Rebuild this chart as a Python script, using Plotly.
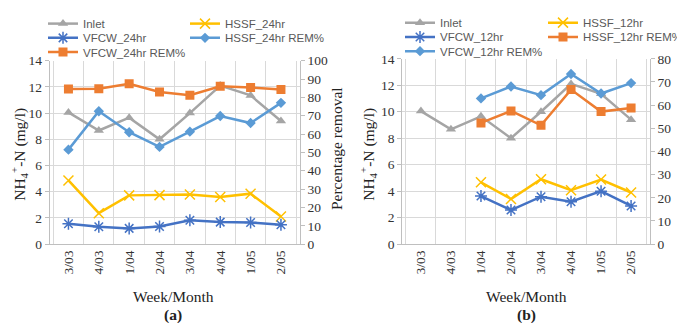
import plotly.graph_objects as go

weeks = ["3/03", "4/03", "1/04", "2/04", "3/04", "4/04", "1/05", "2/05"]

# Panel (a) - 24 hr
inlet = [10.05, 8.67, 9.65, 8.0, 10.0, 12.1, 11.35, 9.4]
hssf_24 = [4.86, 2.36, 3.72, 3.74, 3.78, 3.6, 3.85, 2.1]
vfcw_24 = [1.55, 1.32, 1.2, 1.35, 1.82, 1.68, 1.65, 1.48]
hssf_24_rem = [51.5, 72.4, 61.0, 53.0, 61.3, 69.8, 66.0, 77.0]
vfcw_24_rem = [84.5, 84.7, 87.4, 82.9, 81.2, 86.0, 85.4, 84.3]

# Panel (b) - 12 hr
hssf_12 = [None, None, 4.67, 3.41, 4.9, 4.07, 4.88, 3.9]
vfcw_12 = [None, None, 3.63, 2.57, 3.58, 3.2, 4.0, 2.88]
hssf_12_rem = [None, None, 52.3, 57.5, 51.3, 66.7, 57.2, 58.8]
vfcw_12_rem = [None, None, 62.9, 68.0, 64.3, 73.4, 65.0, 69.5]

GRAY = "#A5A5A5"
YEL = "#FFC000"
BLUE = "#4472C4"
LBLUE = "#5B9BD5"
ORANGE = "#ED7D31"

W, H = 685, 323
fig = go.Figure()

legend_defs = {}
leg_font = dict(family="Liberation Sans", size=11.5, color="#595959")

def tr(y, name, color, symbol, size, xa, ya, lx, ly, open_=False):
    m = dict(symbol=symbol, size=size, color=color)
    if open_:
        m["line"] = dict(color=color, width=1.5)
    key = "legend" if not legend_defs else "legend%d" % (len(legend_defs) + 1)
    legend_defs[key] = dict(x=(lx - 5) / W, y=1 - ly / H, xanchor="left", yanchor="middle",
                            bgcolor="rgba(0,0,0,0)", font=leg_font, itemwidth=30)
    fig.add_trace(go.Scatter(x=weeks, y=y, name=name, mode="lines+markers",
                             line=dict(color=color, width=2.5), marker=m,
                             xaxis=xa, yaxis=ya, legend=key, connectgaps=False,
                             showlegend=True))

tr(inlet, "Inlet", GRAY, "triangle-up", 9, "x", "y", 40, 8)
tr(hssf_24, "HSSF_24hr", YEL, "x-thin-open", 10, "x", "y", 182, 8, True)
tr(vfcw_24, "VFCW_24hr", BLUE, "asterisk-open", 10, "x", "y", 40, 23, True)
tr(hssf_24_rem, "HSSF_24hr REM%", LBLUE, "diamond", 8, "x", "y2", 182, 23)
tr(vfcw_24_rem, "VFCW_24hr REM%", ORANGE, "square", 9, "x", "y2", 40, 38)

tr(inlet, "Inlet", GRAY, "triangle-up", 9, "x2", "y3", 397, 7)
tr(hssf_12, "HSSF_12hr", YEL, "x-thin-open", 10, "x2", "y3", 540, 7, True)
tr(vfcw_12, "VFCW_12hr", BLUE, "asterisk-open", 10, "x2", "y3", 397, 22, True)
tr(hssf_12_rem, "HSSF_12hr REM%", ORANGE, "square", 9, "x2", "y4", 540, 22)
tr(vfcw_12_rem, "VFCW_12hr REM%", LBLUE, "diamond", 8, "x2", "y4", 397, 37)

tickfont = dict(family="Liberation Serif, Times New Roman, serif", size=13.5, color="#333333")
grid = "#D9D9D9"
axcol = "#BFBFBF"

xa_dom = [41.7 / W, 291.7 / W]
xb_dom = [394.3 / W, 641.7 / W]
ya_dom = [1 - 240 / H, 1 - 47 / H]
yb_dom = [1 - 240 / H, 1 - 45 / H]

xcommon = dict(type="category", tickangle=-90, tickfont=tickfont, showgrid=True,
               gridcolor=grid, tickson="boundaries", ticks="", showline=True,
               linecolor=axcol, zeroline=False)
ycommon = dict(range=[0, 14], dtick=2, tickfont=tickfont, gridcolor=grid, showgrid=True,
               zeroline=False, ticks="outside", ticklen=4, tickcolor=axcol,
               showline=True, linecolor=axcol)
rcommon = dict(side="right", dtick=10, tickfont=tickfont, showgrid=False, zeroline=False,
               ticks="outside", ticklen=4, tickcolor=axcol, showline=True, linecolor=axcol)

layout = dict(
    width=W, height=H, margin=dict(l=0, r=0, t=0, b=0),
    paper_bgcolor="white", plot_bgcolor="white", showlegend=True,
    xaxis=dict(domain=xa_dom, anchor="y", **xcommon),
    xaxis2=dict(domain=xb_dom, anchor="y3", **xcommon),
    yaxis=dict(domain=ya_dom, anchor="x", **ycommon),
    yaxis2=dict(domain=ya_dom, anchor="x", overlaying="y", range=[0, 100], **rcommon),
    yaxis3=dict(domain=yb_dom, anchor="x2", **ycommon),
    yaxis4=dict(domain=yb_dom, anchor="x2", overlaying="y3", range=[0, 80], **rcommon),
)
layout.update(legend_defs)
fig.update_layout(**layout)

ann_font = dict(family="Liberation Serif, Times New Roman, serif", size=15.5, color="#222222")
def ann(x, y, text, angle=0, size=None):
    f = dict(ann_font)
    if size:
        f["size"] = size
    fig.add_annotation(x=x / W, y=1 - y / H, xref="paper", yref="paper", text=text,
                       showarrow=False, textangle=angle, font=f,
                       xanchor="center", yanchor="middle")

ann(11, 146, "NH<sub>4</sub><sup>+</sup>-N (mg/l)", -90)
ann(328, 140, "Percentage removal", -90)
ann(165, 295, "Week/Month")
ann(165, 315, "<b>(a)</b>")
ann(360, 146, "NH<sub>4</sub><sup>+</sup>-N (mg/l)", -90)
ann(676, 140, "Percentage removal", -90)
ann(518, 295, "Week/Month")
ann(518, 315, "<b>(b)</b>")

fig.write_html("out.html")
